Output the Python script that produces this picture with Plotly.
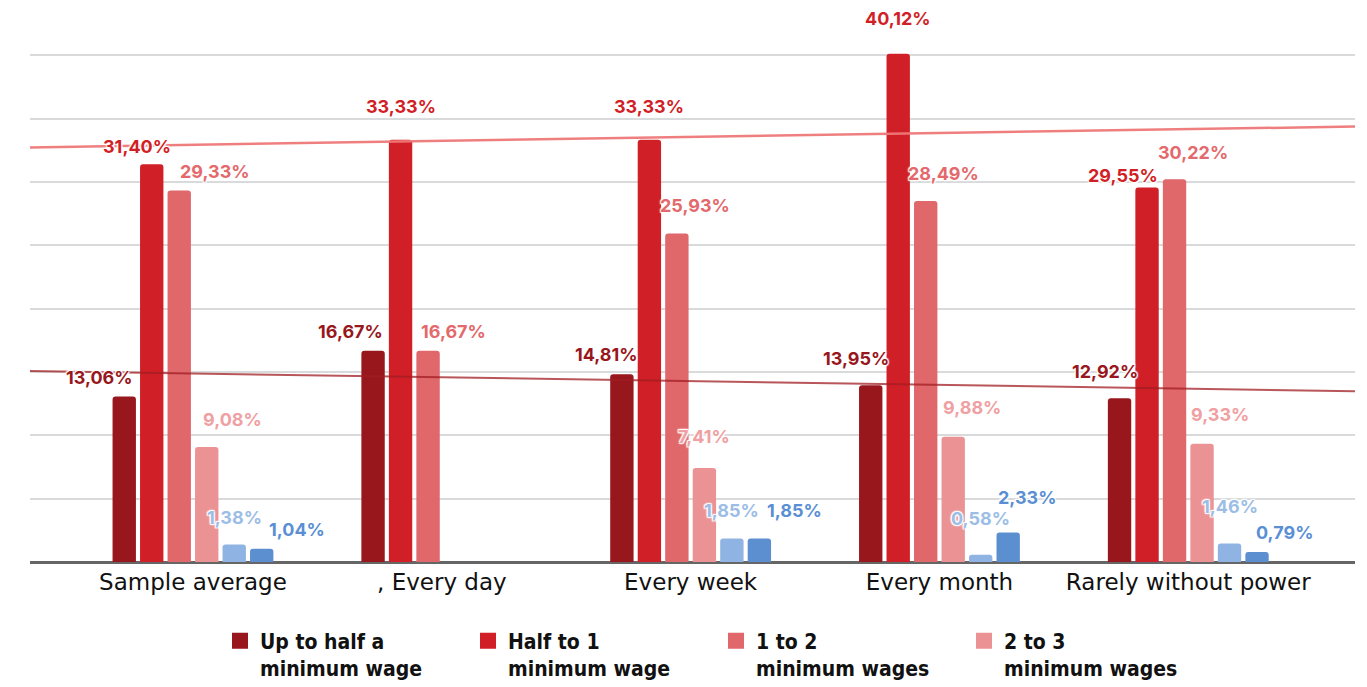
import numpy as np
import plotly.graph_objects as go

# Frequency of power outages vs. household income bracket (% of respondents)
categories = ["Sample average", ", Every day", "Every week", "Every month", "Rarely without power"]

series_names = [
    "Up to half a<br>minimum wage",
    "Half to 1<br>minimum wage",
    "1 to 2<br>minimum wages",
    "2 to 3<br>minimum wages",
    "3 to 5<br>minimum wages",
    "More than 5<br>minimum wages",
]

up_to_half = [13.06, 16.67, 14.81, 13.95, 12.92]
half_to_one = [31.40, 33.33, 33.33, 40.12, 29.55]
one_to_two = [29.33, 16.67, 25.93, 28.49, 30.22]
two_to_three = [9.08, None, 7.41, 9.88, 9.33]
three_to_five = [1.38, None, 1.85, 0.58, 1.46]
over_five = [1.04, None, 1.85, 2.33, 0.79]

series_values = [up_to_half, half_to_one, one_to_two, two_to_three, three_to_five, over_five]

bar_colors = ["#98171d", "#d11f27", "#e0676a", "#eb9295", "#8fb3e2", "#5b8fd0"]
label_colors = ["#98171d", "#d11f27", "#e3696c", "#f0a0a2", "#9cbde6", "#5a8fd4"]
show_in_legend = [True, True, True, True, False, False]

# value-label nudges in pixels (horizontal, and height of label centre above bar top)
label_dx = [
    [-25, -23, -15, -15, -15],
    [-15, 0, 0, 0, -24],
    [36, 25, 18, 18, 18],
    [26, 0, 0, 19, 18],
    [0, 0, 0, 0, 0],
    [35, 0, 35, 19, 27],
]
label_dy = [
    [19, 19, 20, 27, 27],
    [18, 33, 33, 35, 12],
    [19, 19, 28, 28, 27],
    [27, 0, 32, 29, 29],
    [27, 0, 28, 36, 37],
    [19, 0, 28, 35, 19],
]

BARGAP = 0.337
BARGROUPGAP = 0.15
n_series = len(series_values)
slot = (1 - BARGAP) / n_series
x_idx = np.arange(len(categories))

X_MIN, X_MAX = -0.655, 4.67
Y_MAX = 43.57

fig = go.Figure()

for k, (name, vals) in enumerate(zip(series_names, series_values)):
    fig.add_trace(go.Bar(
        x=x_idx,
        y=vals,
        name=name,
        legendgroup=f"g{k}",
        marker=dict(color=bar_colors[k], line=dict(width=0)),
        showlegend=False,
        hoverinfo="skip",
    ))

# larger square swatches for the legend
for k, name in enumerate(series_names):
    if not show_in_legend[k]:
        continue
    fig.add_trace(go.Scatter(
        x=[None], y=[None],
        mode="markers",
        name=name,
        legendgroup=f"g{k}",
        marker=dict(symbol="square", size=16, color=bar_colors[k]),
        showlegend=True,
        hoverinfo="skip",
    ))

# linear trend lines for the two lowest income brackets
trend_specs = [
    (half_to_one, "rgba(238,120,120,0.95)", 2.5),
    (up_to_half, "rgba(160,30,35,0.75)", 2),
]
x_line = np.array([X_MIN, X_MAX])
for vals, color, width in trend_specs:
    slope, intercept = np.polyfit(x_idx, np.array(vals, dtype=float), 1)
    fig.add_trace(go.Scatter(
        x=x_line, y=slope * x_line + intercept,
        mode="lines", line=dict(color=color, width=width),
        showlegend=False, hoverinfo="skip",
    ))

halo = "1px 1px 1px #fff, -1px -1px 1px #fff, 1px -1px 1px #fff, -1px 1px 1px #fff, 0 0 3px #fff"
for k, vals in enumerate(series_values):
    for i, v in enumerate(vals):
        if v is None:
            continue
        fig.add_annotation(
            x=i + (k - (n_series - 1) / 2) * slot,
            y=v,
            xref="x", yref="y",
            text=f"{v:.2f}".replace(".", ",") + "%",
            showarrow=False,
            xanchor="center", yanchor="middle",
            xshift=label_dx[k][i], yshift=label_dy[k][i],
            font=dict(family="Inter, Lato, sans-serif", size=18, color=label_colors[k],
                      weight="bold", shadow=halo),
        )

fig.update_layout(
    width=1367, height=687,
    paper_bgcolor="white", plot_bgcolor="white",
    margin=dict(l=30, r=12, t=10, b=125, autoexpand=False),
    barmode="group",
    bargap=BARGAP, bargroupgap=BARGROUPGAP,
    barcornerradius=3,
    font=dict(family="Inter, Lato, sans-serif", color="#111"),
    legend=dict(
        orientation="h",
        x=0.1434, xanchor="left",
        y=-0.106, yanchor="top",
        entrywidth=203,
        valign="top",
        font=dict(family="DejaVu Sans Condensed, DejaVu Sans, sans-serif",
                  size=21, color="#111", weight="bold"),
        tracegroupgap=0,
        itemsizing="trace",
    ),
    xaxis=dict(
        range=[X_MIN, X_MAX],
        tickvals=list(x_idx), ticktext=categories,
        tickfont=dict(family="DejaVu Sans, sans-serif", size=23, color="#111"),
        ticklabelstandoff=4,
        showgrid=False, zeroline=False,
        showline=False, ticks="",
        fixedrange=True,
    ),
    yaxis=dict(
        range=[0, Y_MAX],
        dtick=5, tick0=0,
        showticklabels=False,
        showgrid=True, gridcolor="#d9dadb", gridwidth=2,
        zeroline=True, zerolinecolor="#666", zerolinewidth=2.5,
        fixedrange=True,
    ),
)

fig.write_html("out.html")
